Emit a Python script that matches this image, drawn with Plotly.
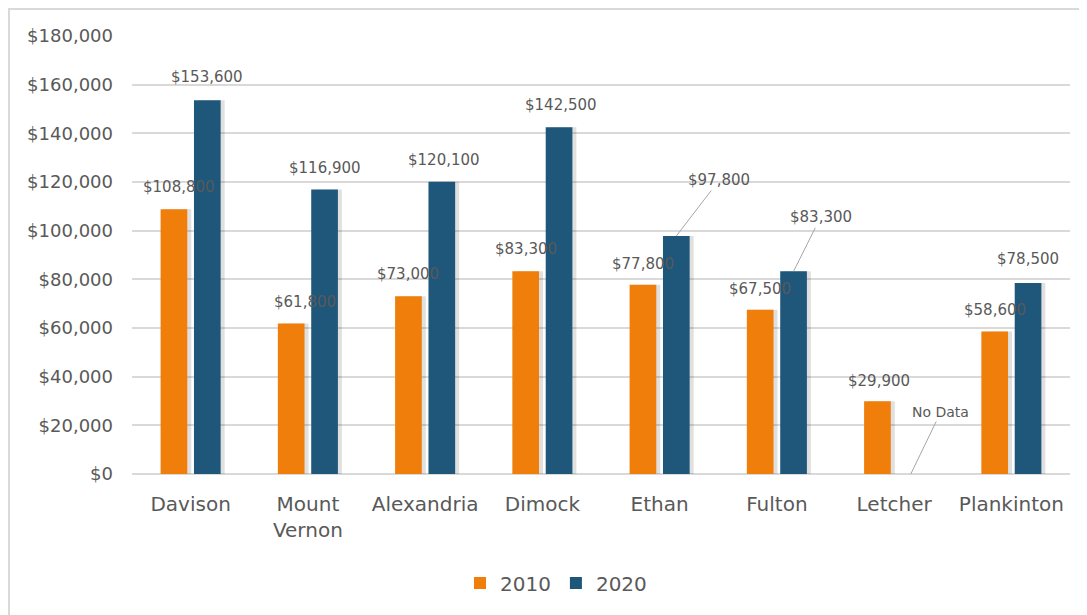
import plotly.graph_objects as go

categories = ["Davison", "Mount<br>Vernon", "Alexandria", "Dimock", "Ethan", "Fulton", "Letcher", "Plankinton"]
values_2010 = [108800, 61800, 73000, 83300, 77800, 67500, 29900, 58600]
values_2020 = [153600, 116900, 120100, 142500, 97800, 83300, None, 78500]
y_ticks = [0, 20000, 40000, 60000, 80000, 100000, 120000, 140000, 160000, 180000]
y_tick_labels = ["$0", "$20,000", "$40,000", "$60,000", "$80,000", "$100,000",
                 "$120,000", "$140,000", "$160,000", "$180,000"]

# label placement tweaks (pixels): (dx, dy) relative to bar top centre
nudge_2010 = [(5, -22), (14, -22), (0, -22), (0, -22), (0, -21), (0, -21), (2, -20), (0, -21)]
nudge_2020 = [(0, -23), (0, -22), (2, -22), (2, -22), (43, -56), (27, -54), (30, -62), (0, -24)]
leader_2020 = [False, False, False, False, True, True, True, False]

ORANGE = "#EF7E0B"
BLUE = "#1E5779"
TXT = "#595959"
GRID = "#D9D9D9"
FONT = "DejaVu Sans"

# page has an 8px body margin; figure coordinates = window coordinates - 8
FW, FH = 1079, 607
L, T = 124, 28
R = FW - 1062
B = FH - 466
W = FW - L - R
H = FH - T - B
cat_px = W / len(categories)

bar_w = 0.2276
gap = 0.0285
off10 = -gap - bar_w
off20 = gap
shadow_dx = 4 / cat_px

idx = list(range(len(categories)))
fig = go.Figure()

# soft shadows
for vals, off in ((values_2010, off10), (values_2020, off20)):
    fig.add_trace(go.Bar(x=idx, y=vals, width=bar_w, offset=off + shadow_dx,
                         marker=dict(color="rgba(0,0,0,0.12)", line=dict(width=0)),
                         showlegend=False, hoverinfo="skip"))

fig.add_trace(go.Bar(name="2010", x=idx, y=values_2010, width=bar_w, offset=off10,
                     marker=dict(color=ORANGE, line=dict(width=0))))
fig.add_trace(go.Bar(name="2020", x=idx, y=values_2020, width=bar_w, offset=off20,
                     marker=dict(color=BLUE, line=dict(width=0))))

ann = []
c10 = off10 + bar_w / 2
c20 = off20 + bar_w / 2
for i, v in enumerate(values_2010):
    dx, dy = nudge_2010[i]
    ann.append(dict(x=i + c10, y=v, xref="x", yref="y", text=f"${v:,.0f}",
                    showarrow=False, xshift=dx, yshift=-dy,
                    font=dict(family=FONT, size=15, color=TXT)))
for i, v in enumerate(values_2020):
    dx, dy = nudge_2020[i]
    txt = "No Data" if v is None else f"${v:,.0f}"
    yv = 0 if v is None else v
    if leader_2020[i]:
        ann.append(dict(x=i + c20, y=yv, xref="x", yref="y", text=txt,
                        showarrow=True, arrowhead=0, arrowwidth=1, arrowcolor="#A6A6A6",
                        ax=dx, ay=dy, axref="pixel", ayref="pixel", standoff=0,
                        font=dict(family=FONT, size=15 if v is not None else 14, color=TXT)))
    else:
        ann.append(dict(x=i + c20, y=yv, xref="x", yref="y", text=txt,
                        showarrow=False, xshift=dx, yshift=-dy,
                        font=dict(family=FONT, size=15, color=TXT)))

fig.update_layout(
    width=FW, height=FH,
    margin=dict(l=L, r=R, t=T, b=B, autoexpand=False),
    paper_bgcolor="white", plot_bgcolor="white",
    barmode="overlay",
    font=dict(family=FONT, color=TXT),
    annotations=ann,
    showlegend=True,
    legend=dict(orientation="h", x=(548 - L) / W, xanchor="center",
                y=(466 - 575) / H, yanchor="middle",
                font=dict(family=FONT, size=20, color=TXT),
                traceorder="normal", itemwidth=30, bgcolor="rgba(0,0,0,0)"),
    xaxis=dict(tickmode="array", tickvals=idx, ticktext=categories,
               range=[-0.5, len(categories) - 0.5], showgrid=False, zeroline=False,
               showline=False, ticks="", ticklabelstandoff=16,
               tickfont=dict(family=FONT, size=20, color=TXT)),
    yaxis=dict(range=[0, 180000], tickmode="array", tickvals=y_ticks, ticktext=y_tick_labels,
               showgrid=True, gridcolor=GRID, gridwidth=2, zeroline=True,
               zerolinecolor=GRID, zerolinewidth=2, showline=False, ticks="",
               ticklabelstandoff=18, tickfont=dict(family=FONT, size=18, color=TXT)),
    shapes=[dict(type="rect", xref="paper", yref="paper",
                 x0=(1 - L) / W, x1=(FW + 20 - L) / W,
                 y0=(466 - FH - 20) / H, y1=(466 - 1) / H,
                 line=dict(color=GRID, width=2), fillcolor="rgba(0,0,0,0)", layer="below")],
)

fig.write_html("out.html")
